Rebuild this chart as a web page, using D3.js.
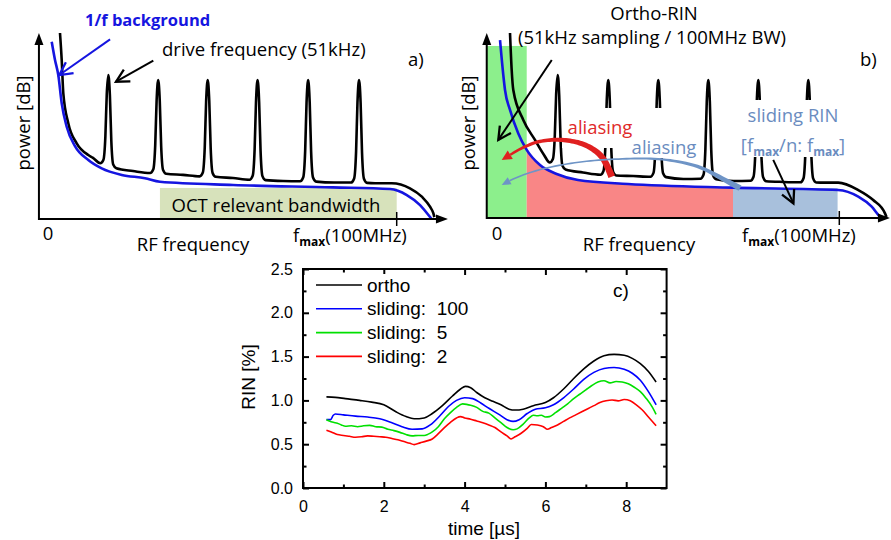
<!DOCTYPE html>
<html>
<head>
<meta charset="utf-8">
<script src="https://cdn.jsdelivr.net/npm/d3@7"></script>
<style>
body { margin: 0; background: #fff; }
svg { display: block; }
.sch text { font-family: "Open Sans", Lato, sans-serif; }
.plot text { font-family: "Liberation Sans", Arial, sans-serif; }
</style>
</head>
<body>
<div id="app"></div>
<script>
// ---- panels a/b: schematic spectra, f in units of fmax, power relative (0..1)
var peakDx    = [-0.023, -0.014, -0.0085, -0.0045, 0, 0.0045, 0.0085, 0.014, 0.023];
var peakShape = [0, 0.04, 0.3, 0.78, 1, 0.78, 0.3, 0.04, 0];

var aBlue = [[0.0106,0.953],[0.0201,0.855],[0.0295,0.774],[0.0393,0.622],[0.0536,0.496],[0.0774,0.392],
             [0.1156,0.317],[0.154,0.272],[0.2114,0.237],[0.278,0.219],[0.321,0.200],[0.531,0.183],
             [0.817,0.170],[0.981,0.161],[1.029,0.129],[1.067,0.075],[1.095,0.012],[1.100,0]];
var aBlackLead = [[0.0344,1.0],[0.0393,0.855],[0.0439,0.676],[0.0582,0.515],[0.0823,0.407],[0.1156,0.344],[0.128,0.330]];
var aBlackMid  = [[0.2438,0.258],[0.3872,0.237],[0.5306,0.220],[0.674,0.204],[0.8203,0.196]];
var aBlackTail = [[0.938,0.192],[0.9857,0.192],[1.038,0.165],[1.072,0.120],[1.0955,0.066],[1.105,0.031],[1.108,0.01]];
var aPeakF     = [0.173, 0.316, 0.458, 0.601, 0.746, 0.892];
var aPeakBaseL = [0.300, 0.247, 0.229, 0.211, 0.203, 0.196];
var aPeakBaseR = [0.273, 0.243, 0.227, 0.209, 0.201, 0.194];
var aPeakTop   = [0.774, 0.747, 0.747, 0.747, 0.747, 0.747];
var aOctBand   = [0.321, 1.0, 0.167];   // f from, f to, height

var bBlue = [[0.0088,0.962],[0.0184,0.773],[0.0234,0.692],[0.038,0.584],[0.0622,0.457],[0.0868,0.368],
             [0.1256,0.286],[0.1744,0.238],[0.2366,0.205],[0.3827,0.184],[0.6895,0.164],[0.9962,0.151],
             [1.0555,0.115],[1.0947,0.061],[1.119,0.007],[1.124,0]];
var bBlackLead = [[0.038,1.0],[0.0429,0.80],[0.0476,0.692],[0.0768,0.530],[0.111,0.422],[0.136,0.345]];
var bBlackMid  = [[0.2512,0.246],[0.3982,0.227],[0.5443,0.211],[0.6904,0.200],[0.8365,0.195]];
var bBlackTail = [[0.958,0.191],[0.997,0.191],[1.0555,0.151],[1.099,0.097],[1.1335,0.025],[1.138,0.005]];
var bPeakF     = [0.1773, 0.3251, 0.4712, 0.6173, 0.7634, 0.9095];
var bPeakBaseL = [0.300, 0.234, 0.223, 0.212, 0.201, 0.193];
var bPeakBaseR = [0.262, 0.230, 0.221, 0.210, 0.199, 0.192];
var bPeakTop   = [0.773, 0.746, 0.746, 0.746, 0.746, 0.746];
var bOrthoBand   = [-0.03, 0.0868, 0.93];
var bAliasBand   = [0.0868, 0.6895];
var bSlidingBand = [0.6895, 0.995, 0.162];

// annotation arrows (data coords)
var aArrowBlue  = [[0.178,0.966],[0.0324,0.774]];
var aArrowBlack = [[0.302,0.851],[0.195,0.738]];
var bArrowOrtho = [[0.16,0.854],[0.0038,0.422]];
var bArrowSlide = [[0.807,0.314],[0.866,0.079]];
var bArrowRed   = [[0.335,0.223],[0.306,0.331],[0.257,0.395],[0.189,0.422],[0.121,0.412],[0.072,0.377],[0.038,0.341],[0.0137,0.314]];
var bArrowSteel = [[0.710,0.161],[0.666,0.205],[0.588,0.277],[0.481,0.317],[0.335,0.317],[0.218,0.296],[0.121,0.259],[0.0526,0.215],[0.0137,0.178]];

// ---- panel c: RIN vs time
var rinOrtho = [[0.58,1.04],[0.8,1.035],[1.05,1.02],[1.4,1.00],[1.7,0.98],[2.0,0.95],[2.3,0.87],[2.55,0.815],[2.75,0.79],
  [3.0,0.80],[3.2,0.85],[3.45,0.94],[3.7,1.05],[3.9,1.13],[4.02,1.16],[4.15,1.145],[4.3,1.09],[4.5,1.03],[4.7,0.99],
  [4.9,0.95],[5.1,0.9],[5.25,0.89],[5.45,0.90],[5.7,0.94],[6.0,0.975],[6.2,1.03],[6.45,1.13],[6.7,1.25],[6.95,1.36],
  [7.2,1.45],[7.45,1.51],[7.7,1.525],[7.95,1.515],[8.15,1.48],[8.35,1.42],[8.55,1.33],[8.74,1.21]];
var rinSlide100 = [[0.58,0.78],[0.68,0.78],[0.75,0.83],[0.8,0.845],[1.0,0.835],[1.3,0.82],[1.6,0.81],[1.9,0.79],[2.2,0.745],
  [2.45,0.70],[2.7,0.67],[2.95,0.675],[3.15,0.72],[3.4,0.83],[3.6,0.93],[3.8,1.00],[4.0,1.03],[4.2,1.02],[4.4,0.97],
  [4.6,0.91],[4.85,0.84],[5.05,0.78],[5.2,0.76],[5.35,0.78],[5.55,0.85],[5.75,0.90],[6.0,0.915],[6.2,0.95],[6.45,1.03],
  [6.7,1.13],[6.95,1.24],[7.2,1.32],[7.45,1.365],[7.7,1.375],[7.95,1.355],[8.15,1.31],[8.35,1.23],[8.55,1.10],[8.74,0.95]];
var rinSlide5 = [[0.58,0.78],[0.65,0.765],[0.75,0.75],[0.85,0.74],[0.95,0.72],[1.05,0.705],[1.2,0.71],[1.35,0.70],[1.5,0.71],
  [1.65,0.715],[1.8,0.70],[1.95,0.695],[2.1,0.67],[2.25,0.655],[2.4,0.635],[2.55,0.61],[2.7,0.595],[2.85,0.60],[3.0,0.60],
  [3.1,0.615],[3.2,0.64],[3.35,0.70],[3.5,0.79],[3.65,0.86],[3.8,0.92],[3.95,0.96],[4.05,0.955],[4.15,0.945],[4.3,0.92],
  [4.45,0.875],[4.6,0.855],[4.75,0.80],[4.9,0.745],[5.05,0.69],[5.2,0.665],[5.3,0.675],[5.45,0.73],[5.6,0.80],[5.7,0.83],
  [5.8,0.825],[5.9,0.83],[6.0,0.81],[6.1,0.815],[6.25,0.86],[6.4,0.91],[6.55,0.96],[6.7,1.02],[6.85,1.07],[7.0,1.12],
  [7.15,1.17],[7.3,1.21],[7.45,1.225],[7.6,1.20],[7.75,1.215],[7.9,1.21],[8.05,1.19],[8.2,1.15],[8.35,1.10],[8.5,1.02],
  [8.65,0.92],[8.74,0.84]];
var rinSlide2 = [[0.58,0.66],[0.7,0.64],[0.85,0.61],[1.0,0.60],[1.15,0.59],[1.3,0.58],[1.45,0.585],[1.6,0.595],[1.75,0.59],
  [1.9,0.585],[2.05,0.58],[2.2,0.565],[2.35,0.55],[2.5,0.53],[2.65,0.51],[2.75,0.495],[2.9,0.515],[3.05,0.535],[3.2,0.56],
  [3.35,0.62],[3.5,0.69],[3.65,0.75],[3.8,0.80],[3.9,0.815],[4.0,0.80],[4.15,0.785],[4.3,0.765],[4.45,0.745],[4.6,0.72],
  [4.75,0.69],[4.9,0.64],[5.05,0.595],[5.15,0.56],[5.25,0.585],[5.4,0.625],[5.55,0.68],[5.65,0.725],[5.8,0.72],[5.95,0.70],
  [6.05,0.67],[6.15,0.69],[6.3,0.72],[6.45,0.76],[6.6,0.80],[6.75,0.835],[6.9,0.87],[7.05,0.905],[7.2,0.94],[7.35,0.975],
  [7.5,0.995],[7.65,1.005],[7.8,0.995],[7.95,1.01],[8.1,0.995],[8.25,0.95],[8.4,0.89],[8.55,0.81],[8.74,0.71]];
var seriesNames  = ['ortho', 'sliding:  100', 'sliding:  5', 'sliding:  2'];
var seriesColors = ['#000000', '#0000ff', '#00e000', '#ff0000'];
var xTicksC = [0, 2, 4, 6, 8];
var yTicksC = [0, 0.5, 1, 1.5, 2, 2.5];

var svg = d3.select('#app').append('svg').attr('width', 891).attr('height', 540);
var defs = svg.append('defs');

function openHead(id, color) {
  defs.append('marker').attr('id', id)
      .attr('viewBox', '0 0 14 14').attr('refX', 12).attr('refY', 7)
      .attr('markerWidth', 17).attr('markerHeight', 17)
      .attr('markerUnits', 'userSpaceOnUse').attr('orient', 'auto')
    .append('path').attr('d', 'M1.5,1.5 L12,7 L1.5,12.5')
      .attr('fill', 'none').attr('stroke', color).attr('stroke-width', 1.9);
}
openHead('head-k', '#000');
openHead('head-b', '#1515e0');

// background points plus peaks; each peak rises from its own left/right base level
function blackCurve(lead, mids, tail, pf, pbL, pbR, pt) {
  var pts = lead.concat(mids, tail);
  pf.forEach(function(c, i) {
    peakDx.forEach(function(dx, j) {
      var base = dx < 0 ? pbL[i] : dx > 0 ? pbR[i] : (pbL[i] + pbR[i]) / 2;
      pts.push([c + dx, base + peakShape[j] * (pt[i] - base)]);
    });
  });
  return pts.sort(function(p, q) { return p[0] - q[0]; });
}

function frame(g, x, y, f0, f1, pTop) {
  var x0 = x(f0), y0 = y(0), xe = x(f1), yt = y(pTop);
  g.append('line').attr('x1', x0).attr('y1', y0).attr('x2', xe - 8).attr('y2', y0)
   .attr('stroke', '#000').attr('stroke-width', 2);
  g.append('line').attr('x1', x0).attr('y1', y0 + 1).attr('x2', x0).attr('y2', yt + 8)
   .attr('stroke', '#000').attr('stroke-width', 2);
  g.append('path').attr('d', 'M' + xe + ',' + y0 + 'L' + (xe - 12) + ',' + (y0 - 4.5) + 'L' + (xe - 12) + ',' + (y0 + 4.5) + 'Z');
  g.append('path').attr('d', 'M' + x0 + ',' + yt + 'L' + (x0 - 4.5) + ',' + (yt + 12) + 'L' + (x0 + 4.5) + ',' + (yt + 12) + 'Z');
  g.append('line').attr('x1', x(1)).attr('x2', x(1)).attr('y1', y0 - 7).attr('y2', y0 + 7)
   .attr('stroke', '#000').attr('stroke-width', 1.5);
}

function label(g, x, y, txt, opt) {
  opt = opt || {};
  return g.append('text').attr('x', x).attr('y', y).text(txt)
          .attr('font-size', opt.size || 18.5).attr('fill', opt.color || '#000')
          .attr('font-weight', opt.weight || 'normal')
          .attr('text-anchor', opt.anchor || 'start');
}

function fmaxText(g, x, y, color, rest) {
  var t = g.append('text').attr('x', x).attr('y', y).attr('fill', color).attr('font-size', 18.5);
  t.append('tspan').text('f');
  t.append('tspan').text('max').attr('font-size', 12).attr('font-weight', 'bold').attr('dy', 4);
  t.append('tspan').text(rest).attr('dy', -4);
  return t;
}

function arrow(g, pts, x, y, color, marker) {
  g.append('line').attr('x1', x(pts[0][0])).attr('y1', y(pts[0][1]))
   .attr('x2', x(pts[1][0])).attr('y2', y(pts[1][1]))
   .attr('stroke', color).attr('stroke-width', 2).attr('marker-end', 'url(#' + marker + ')');
}

function taperArrow(g, pts, x, y, w0, w1, pw, head, headW, color) {
  var ln = d3.line().x(function(d) { return x(d[0]); }).y(function(d) { return y(d[1]); }).curve(d3.curveCatmullRom);
  var tmp = g.append('path').attr('d', ln(pts)).attr('fill', 'none');
  var node = tmp.node(), L = node.getTotalLength(), body = L - head, n = 60;
  var left = [], right = [];
  for (var i = 0; i <= n; i++) {
    var s = body * i / n, p = node.getPointAtLength(s);
    var a = node.getPointAtLength(Math.max(s - 0.6, 0)), b = node.getPointAtLength(Math.min(s + 0.6, L));
    var dx = b.x - a.x, dy = b.y - a.y, len = Math.hypot(dx, dy) || 1;
    var w = w1 + (w0 - w1) * Math.pow(1 - i / n, pw);
    left.push([p.x - dy / len * w / 2, p.y + dx / len * w / 2]);
    right.push([p.x + dy / len * w / 2, p.y - dx / len * w / 2]);
  }
  var tip = node.getPointAtLength(L), base = node.getPointAtLength(body);
  var hx = tip.x - base.x, hy = tip.y - base.y, hl = Math.hypot(hx, hy) || 1;
  tmp.remove();
  g.append('path').attr('d', 'M' + left.concat(right.reverse()).join('L') + 'Z').attr('fill', color);
  g.append('path').attr('fill', color)
   .attr('d', 'M' + tip.x + ',' + tip.y +
              'L' + (base.x - hy / hl * headW / 2) + ',' + (base.y + hx / hl * headW / 2) +
              'L' + (base.x + hy / hl * headW / 2) + ',' + (base.y - hx / hl * headW / 2) + 'Z');
}

var sch = svg.append('g').attr('class', 'sch');

// ================= panel a =================
var xA = d3.scaleLinear().domain([0, 1]).range([48, 396.7]);
var yA = d3.scaleLinear().domain([0, 1]).range([219, 33]);
var lineA = d3.line().x(function(d) { return xA(d[0]); }).y(function(d) { return yA(d[1]); }).curve(d3.curveMonotoneX);
var gA = sch.append('g');

gA.append('rect').attr('x', xA(aOctBand[0])).attr('y', yA(aOctBand[2]))
  .attr('width', xA(aOctBand[1]) - xA(aOctBand[0])).attr('height', yA(0) - yA(aOctBand[2]))
  .attr('fill', '#d7e2bb');
gA.append('path').attr('d', lineA(blackCurve(aBlackLead, aBlackMid, aBlackTail, aPeakF, aPeakBaseL, aPeakBaseR, aPeakTop)))
  .attr('fill', 'none').attr('stroke', '#000').attr('stroke-width', 2.6);
gA.append('path').attr('d', lineA(aBlue)).attr('fill', 'none').attr('stroke', '#1515e0').attr('stroke-width', 2.6);
frame(gA, xA, yA, -0.026, 1.147, 1);

label(gA, 85, 26, '1/f background', {color: '#1515e0', weight: 'bold', size: 16.5});
label(gA, 162, 56, 'drive frequency (51kHz)');
label(gA, 408, 66, 'a)');
label(gA, 0, 0, 'power [dB]', {anchor: 'middle'}).attr('transform', 'translate(30,123) rotate(-90)');
label(gA, 48, 240, '0', {anchor: 'middle'});
label(gA, 193, 251, 'RF frequency', {anchor: 'middle'});
fmaxText(gA, 293, 242, '#000', '(100MHz)');
label(gA, 276, 212, 'OCT relevant bandwidth', {anchor: 'middle'});
arrow(gA, aArrowBlue, xA, yA, '#1515e0', 'head-b');
arrow(gA, aArrowBlack, xA, yA, '#000', 'head-k');

// ================= panel b =================
var xB = d3.scaleLinear().domain([0, 1]).range([497, 839.3]);
var yB = d3.scaleLinear().domain([0, 1]).range([218, 33]);
var lineB = d3.line().x(function(d) { return xB(d[0]); }).y(function(d) { return yB(d[1]); }).curve(d3.curveMonotoneX);
var areaB = d3.area().x(function(d) { return xB(d[0]); }).y0(yB(0)).y1(function(d) { return yB(d[1]); }).curve(d3.curveMonotoneX);
var gB = sch.append('g');

gB.append('rect').attr('x', xB(bOrthoBand[0])).attr('y', yB(bOrthoBand[2]))
  .attr('width', xB(bOrthoBand[1]) - xB(bOrthoBand[0])).attr('height', yB(0) - yB(bOrthoBand[2]))
  .attr('fill', '#8cef8c');
gB.append('path').attr('fill', '#f98686')
  .attr('d', areaB(bBlue.filter(function(d) { return d[0] >= bAliasBand[0] && d[0] <= bAliasBand[1]; })));
gB.append('rect').attr('x', xB(bSlidingBand[0])).attr('y', yB(bSlidingBand[2]))
  .attr('width', xB(bSlidingBand[1]) - xB(bSlidingBand[0])).attr('height', yB(0) - yB(bSlidingBand[2]))
  .attr('fill', '#a8c0dc');
gB.append('path').attr('d', lineB(blackCurve(bBlackLead, bBlackMid, bBlackTail, bPeakF, bPeakBaseL, bPeakBaseR, bPeakTop)))
  .attr('fill', 'none').attr('stroke', '#000').attr('stroke-width', 2.6);
gB.append('path').attr('d', lineB(bBlue)).attr('fill', 'none').attr('stroke', '#1515e0').attr('stroke-width', 2.6);
frame(gB, xB, yB, -0.03, 1.148, 1);

// text boxes hide the peaks behind them
[[562, 108, 102, 40], [628, 138, 72, 20], [745, 100, 100, 57]].forEach(function(r) {
  gB.append('rect').attr('x', r[0]).attr('y', r[1]).attr('width', r[2]).attr('height', r[3]).attr('fill', '#fff');
});

label(gB, 654, 20, 'Ortho-RIN', {anchor: 'middle'});
label(gB, 652, 44, '(51kHz sampling / 100MHz BW)', {anchor: 'middle'});
label(gB, 860, 66, 'b)');
label(gB, 0, 0, 'power [dB]', {anchor: 'middle'}).attr('transform', 'translate(475,123) rotate(-90)');
label(gB, 497, 240, '0', {anchor: 'middle'});
label(gB, 639, 251, 'RF frequency', {anchor: 'middle'});
fmaxText(gB, 742, 242, '#000', '(100MHz)');
label(gB, 600, 134, 'aliasing', {anchor: 'middle', color: '#e02a2a'});
label(gB, 664, 154, 'aliasing', {anchor: 'middle', color: '#6a8cbf'});
label(gB, 793, 122, 'sliding RIN', {anchor: 'middle', color: '#6a8cbf'});
var sl = gB.append('text').attr('x', 793).attr('y', 152).attr('fill', '#6a8cbf').attr('font-size', 18.5)
           .attr('text-anchor', 'middle');
sl.append('tspan').text('[f');
sl.append('tspan').text('max').attr('font-size', 12).attr('font-weight', 'bold').attr('dy', 4);
sl.append('tspan').text('/n: f').attr('dy', -4);
sl.append('tspan').text('max').attr('font-size', 12).attr('font-weight', 'bold').attr('dy', 4);
sl.append('tspan').text(']').attr('dy', -4);

taperArrow(gB, bArrowRed, xB, yB, 7, 2.5, 1.2, 10, 10, '#e02020');
taperArrow(gB, bArrowSteel, xB, yB, 6, 1.6, 4, 9, 8, '#6e94c6');
arrow(gB, bArrowOrtho, xB, yB, '#000', 'head-k');
arrow(gB, bArrowSlide, xB, yB, '#000', 'head-k');

// ================= panel c =================
var plot = svg.append('g').attr('class', 'plot');
var xC = d3.scaleLinear().domain([0, 9]).range([303, 666.6]);
var yC = d3.scaleLinear().domain([0, 2.5]).range([488, 269]);
var minorX = d3.range(1, 9, 2), minorY = d3.range(0.25, 2.5, 0.5);

function ticks(axis, vals, size, fmt, pad) {
  return axis.tickValues(vals).tickSize(size).tickPadding(pad || 3).tickFormat(fmt);
}
var none = function() { return ''; };
[[d3.axisBottom, yC(0), xTicksC, minorX, d3.format('d')], [d3.axisTop, yC(2.5), xTicksC, minorX, none]].forEach(function(a) {
  var g1 = plot.append('g').attr('transform', 'translate(0,' + a[1] + ')').call(ticks(a[0](xC), a[2], -6, a[4], 13));
  var g2 = plot.append('g').attr('transform', 'translate(0,' + a[1] + ')').call(ticks(a[0](xC), a[3], -3.5, none));
  [g1, g2].forEach(function(g) { g.select('.domain').remove(); g.selectAll('line').attr('stroke-width', 2); });
});
[[d3.axisLeft, xC(0), d3.format('.1f')], [d3.axisRight, xC(9), none]].forEach(function(a) {
  var g1 = plot.append('g').attr('transform', 'translate(' + a[1] + ',0)').call(ticks(a[0](yC), yTicksC, -6, a[2], 10));
  var g2 = plot.append('g').attr('transform', 'translate(' + a[1] + ',0)').call(ticks(a[0](yC), minorY, -3.5, none));
  [g1, g2].forEach(function(g) { g.select('.domain').remove(); g.selectAll('line').attr('stroke-width', 2); });
});
plot.selectAll('.tick text').attr('font-size', 16).attr('font-family', '"Liberation Sans", Arial, sans-serif').attr('fill', '#000');

var lineC = d3.line().x(function(d) { return xC(d[0]); }).y(function(d) { return yC(d[1]); }).curve(d3.curveMonotoneX);
var seriesC = [rinOrtho, rinSlide100, rinSlide5, rinSlide2];
seriesC.forEach(function(s, i) {
  plot.append('path').attr('d', lineC(s)).attr('fill', 'none')
      .attr('stroke', seriesColors[i]).attr('stroke-width', 1.6);
});

plot.append('rect').attr('x', xC(0)).attr('y', yC(2.5)).attr('width', xC(9) - xC(0)).attr('height', yC(0) - yC(2.5))
    .attr('fill', 'none').attr('stroke', '#000').attr('stroke-width', 2);

seriesNames.forEach(function(name, i) {
  var ly = 285 + i * 23.8;
  plot.append('rect').attr('x', 365).attr('y', ly - 11).attr('width', name.length * 8.5).attr('height', 20).attr('fill', '#fff');
  plot.append('line').attr('x1', 316).attr('x2', 362).attr('y1', ly).attr('y2', ly)
      .attr('stroke', seriesColors[i]).attr('stroke-width', 1.6);
  plot.append('text').attr('x', 367).attr('y', ly + 6.5).attr('font-size', 19)
      .style('white-space', 'pre').text(name);
});
plot.append('text').attr('x', 613).attr('y', 297).attr('font-size', 19).text('c)');
plot.append('text').attr('x', 484).attr('y', 535).attr('font-size', 19).attr('text-anchor', 'middle').text('time [\u00b5s]');
plot.append('text').attr('transform', 'translate(255,377) rotate(-90)').attr('font-size', 19)
    .attr('text-anchor', 'middle').text('RIN [%]');
</script>
</body>
</html>
